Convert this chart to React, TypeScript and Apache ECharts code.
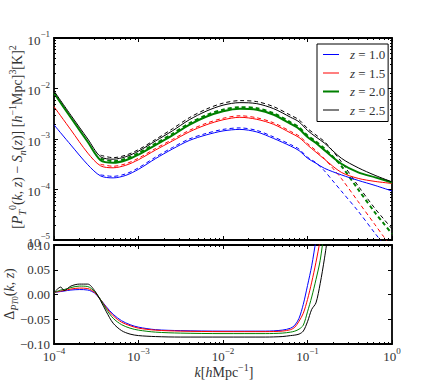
import React, { useEffect, useRef } from "react";
import * as echarts from "echarts";

// ---- data (log10 values) ----
const seriesNames = ["z = 1.0", "z = 1.5", "z = 2.0", "z = 2.5"];
const seriesColors = ["#0000ff", "#ff0000", "#008000", "#000000"];
const seriesWidths = [1, 1, 2, 1];

const logKTop = [-4, -3.8, -3.6, -3.45, -3.3, -3.15, -3.0, -2.8, -2.6, -2.4, -2.2, -2.0, -1.8, -1.6, -1.4, -1.2, -1.1, -1.0, -0.9, -0.8, -0.6, -0.4, -0.2, 0];
const logPBlue = [-2.72, -3.12, -3.51, -3.73, -3.77, -3.72, -3.60, -3.39, -3.20, -3.03, -2.92, -2.84, -2.81, -2.86, -2.99, -3.14, -3.23, -3.38, -3.48, -3.58, -3.71, -3.82, -3.92, -4.03];
const logPRed = [-2.36, -2.82, -3.28, -3.53, -3.57, -3.52, -3.41, -3.22, -3.04, -2.86, -2.72, -2.62, -2.57, -2.61, -2.71, -2.88, -2.97, -3.12, -3.26, -3.40, -3.66, -3.78, -3.84, -3.88];
const logPGreen = [-2.09, -2.58, -3.06, -3.42, -3.47, -3.42, -3.31, -3.12, -2.93, -2.72, -2.56, -2.45, -2.40, -2.42, -2.52, -2.70, -2.80, -2.96, -3.08, -3.22, -3.49, -3.66, -3.76, -3.86];
const logPBlack = [-2.05, -2.53, -3.00, -3.35, -3.40, -3.35, -3.24, -3.04, -2.84, -2.62, -2.45, -2.33, -2.28, -2.30, -2.40, -2.57, -2.66, -2.83, -2.96, -3.08, -3.38, -3.57, -3.72, -3.85];

const logKDashed = [-3.45, -3.3, -3.15, -3.0, -2.8, -2.6, -2.4, -2.2, -2.0, -1.8, -1.6, -1.4, -1.2, -1.1, -1.0, -0.9, -0.8, -0.7, -0.6, -0.4, -0.2, -0.1, 0];
const logPBlueD = [-3.71, -3.74, -3.69, -3.57, -3.36, -3.17, -3.00, -2.89, -2.81, -2.78, -2.83, -2.96, -3.11, -3.20, -3.36, -3.47, -3.63, -3.83, -4.03, -4.43, -4.87, -5.08, -5.30];
const logPRedD = [-3.50, -3.54, -3.49, -3.38, -3.19, -3.01, -2.83, -2.69, -2.59, -2.54, -2.58, -2.68, -2.85, -2.94, -3.09, -3.23, -3.39, -3.58, -3.78, -4.24, -4.70, -4.93, -5.15];
const logPGreenD = [-3.39, -3.44, -3.39, -3.28, -3.09, -2.90, -2.69, -2.53, -2.42, -2.37, -2.39, -2.49, -2.67, -2.77, -2.93, -3.05, -3.19, -3.35, -3.53, -4.00, -4.46, -4.67, -4.88];
const logPBlackD = [-3.32, -3.37, -3.32, -3.21, -3.01, -2.80, -2.58, -2.41, -2.29, -2.24, -2.26, -2.36, -2.53, -2.62, -2.79, -2.92, -3.05, -3.24, -3.45, -3.93, -4.38, -4.58, -4.78];

const logKBottom = [-4, -3.92, -3.88, -3.8, -3.7, -3.6, -3.52, -3.45, -3.38, -3.3, -3.2, -3.1, -3.0, -2.8, -2.5, -2.0, -1.5, -1.3, -1.2, -1.15, -1.1, -1.05, -1.0, -0.95, -0.9, -0.85, -0.8, -0.75];
const deltaBlue = [0.004, 0.006, 0.007, 0.009, 0.010, 0.009, 0.003, -0.010, -0.025, -0.040, -0.053, -0.061, -0.066, -0.071, -0.073, -0.074, -0.074, -0.072, -0.068, -0.062, -0.048, -0.020, 0.018, 0.058, 0.11, 0.16, 0.21, 0.26];
const deltaRed = [0.004, 0.007, 0.008, 0.011, 0.013, 0.012, 0.004, -0.010, -0.027, -0.043, -0.056, -0.063, -0.068, -0.072, -0.074, -0.075, -0.075, -0.074, -0.071, -0.066, -0.054, -0.038, -0.010, 0.025, 0.065, 0.11, 0.16, 0.21];
const deltaGreen = [0.004, 0.009, 0.010, 0.014, 0.017, 0.016, 0.006, -0.010, -0.030, -0.048, -0.061, -0.068, -0.072, -0.076, -0.078, -0.079, -0.079, -0.078, -0.076, -0.074, -0.070, -0.062, -0.035, -0.005, 0.030, 0.069, 0.13, 0.19];
const deltaBlack = [0.004, 0.015, 0.008, 0.017, 0.021, 0.021, 0.008, -0.012, -0.035, -0.058, -0.073, -0.080, -0.083, -0.085, -0.086, -0.086, -0.086, -0.085, -0.083, -0.082, -0.080, -0.074, -0.055, -0.030, -0.017, 0.022, 0.072, 0.13];

const solidTop = [logPBlue, logPRed, logPGreen, logPBlack];
const dashedTop = [logPBlueD, logPRedD, logPGreenD, logPBlackD];
const deltas = [deltaBlue, deltaRed, deltaGreen, deltaBlack];

const kDecades = [-4, -3, -2, -1];
const pDecades = [-5, -4, -3, -2];
const minorMult = [2, 3, 4, 5, 6, 7, 8, 9];

const FONT = "'Liberation Serif', 'DejaVu Serif', serif";
const TXT = "#333";

const supRich = {
  b: { fontFamily: FONT, fontSize: 13, color: TXT, lineHeight: 17, verticalAlign: "bottom" },
  s: { fontFamily: FONT, fontSize: 9, color: TXT, lineHeight: 10, verticalAlign: "top" },
};
const pow10Label = (v: number) => {
  const n = Math.round(Math.log10(v));
  return `{b|10}{s|${n < 0 ? "\u2212" + -n : n}}`;
};

const ICON_THIN = "path://M0,0h0.01v0.01h-0.01zM0,5.5h16v1h-16zM0,11.99h0.01v0.01h-0.01z";
const ICON_THICK = "path://M0,0h0.01v0.01h-0.01zM0,5h16v2h-16zM0,11.99h0.01v0.01h-0.01z";

export default function App() {
  const ref = useRef<HTMLDivElement>(null);
  useEffect(() => {
    const chart = echarts.init(ref.current!, null, { renderer: "svg" });
    const axisLine = { show: true, lineStyle: { color: "#000", width: 1.8 } };
    const tick = { show: true, inside: true, length: 4, lineStyle: { color: "#000", width: 1 } };
    const logX = (grid: number, pos: string, labels: boolean) => ({
      type: "log", logBase: 10, gridIndex: grid, position: pos, min: 1e-4, max: 1,
      axisLine: { ...axisLine, onZero: false }, axisTick: tick, splitLine: { show: false },
      axisLabel: labels
        ? { show: true, margin: 2, formatter: pow10Label, rich: supRich, showMinLabel: true, showMaxLabel: true }
        : { show: false },
    });

    const series: any[] = [];
    for (let i = 0; i < 4; i++) {
      series.push({
        type: "line", name: seriesNames[i], xAxisIndex: 0, yAxisIndex: 0, symbol: "none",
        smooth: 0.3, color: seriesColors[i],
        lineStyle: { color: seriesColors[i], width: seriesWidths[i] },
        data: logKTop.map((x, j) => [Math.pow(10, x), Math.pow(10, solidTop[i][j])]),
        z: 3,
      });
    }
    for (let i = 0; i < 4; i++) {
      series.push({
        type: "line", name: seriesNames[i] + " linear", xAxisIndex: 0, yAxisIndex: 0, symbol: "none",
        smooth: 0.3, color: seriesColors[i],
        lineStyle: { color: seriesColors[i], width: seriesWidths[i], type: [4, 3] },
        data: logKDashed.map((x, j) => [Math.pow(10, x), Math.pow(10, dashedTop[i][j])]),
        z: 2,
      });
    }
    for (let i = 0; i < 4; i++) {
      series.push({
        type: "line", name: seriesNames[i] + " delta", xAxisIndex: 2, yAxisIndex: 2, symbol: "none",
        smooth: 0.3, color: seriesColors[i],
        lineStyle: { color: seriesColors[i], width: 1 },
        data: logKBottom.map((x, j) => [Math.pow(10, x), deltas[i][j]]),
      });
    }

    const minorK: number[][] = [];
    kDecades.forEach((d) => minorMult.forEach((m) => minorK.push([m * Math.pow(10, d)])));
    const minorP: number[][] = [];
    pDecades.forEach((d) => minorMult.forEach((m) => minorP.push([m * Math.pow(10, d)])));

    const tickStyle = { stroke: "#000", lineWidth: 1 };
    const xMinor = (xi: number, yi: number, yv: number) => ({
      type: "custom", xAxisIndex: xi, yAxisIndex: yi, silent: true, z: 5,
      data: minorK.map((d) => [d[0], yv]),
      renderItem: (params: any, api: any) => {
        const cs = params.coordSys;
        const x = Math.round(api.coord([api.value(0), api.value(1)])[0]) + 0.5;
        const b = cs.y + cs.height;
        return {
          type: "group",
          children: [
            { type: "line", shape: { x1: x, y1: b, x2: x, y2: b - 2 }, style: tickStyle },
            { type: "line", shape: { x1: x, y1: cs.y, x2: x, y2: cs.y + 2 }, style: tickStyle },
          ],
        };
      },
    });
    series.push(xMinor(0, 0, 1e-3));
    series.push(xMinor(2, 2, 0));
    series.push({
      type: "custom", xAxisIndex: 0, yAxisIndex: 0, silent: true, z: 5,
      data: minorP.map((d) => [1e-2, d[0]]),
      renderItem: (params: any, api: any) => {
        const cs = params.coordSys;
        const y = Math.round(api.coord([api.value(0), api.value(1)])[1]) + 0.5;
        const r = cs.x + cs.width;
        return {
          type: "group",
          children: [
            { type: "line", shape: { x1: cs.x, y1: y, x2: cs.x + 2, y2: y }, style: tickStyle },
            { type: "line", shape: { x1: r, y1: y, x2: r - 2, y2: y }, style: tickStyle },
          ],
        };
      },
    });

    const ylabelTop =
      "{n|[}{i|P}{sub|T}{sup|0}{n|(}{i|k}{n|, }{i|z}{n|) \u2212 }{i|S}{sub|n}{n|(}{i|z}{n|)] [}{i|h}{sup|\u22121}{n|Mpc]}{sup|3}{n|[K]}{sup|2}";
    const ylabelBot = "{n|\u0394}{sub|P}{ssub|T}{sub2|0}{n|(}{i|k}{n|, }{i|z}{n|)}";
    const xlabel = "{i|k}{n|[}{i|h}{n|Mpc}{sup|\u22121}{n|]}";
    const labRich = {
      n: { fontFamily: FONT, fontSize: 14, color: TXT, lineHeight: 20, verticalAlign: "middle" },
      i: { fontFamily: FONT, fontSize: 14, fontStyle: "italic", color: TXT, lineHeight: 20, verticalAlign: "middle" },
      sub: { fontFamily: FONT, fontSize: 10, fontStyle: "italic", color: TXT, lineHeight: 10, verticalAlign: "bottom" },
      sup: { fontFamily: FONT, fontSize: 10, color: TXT, lineHeight: 10, verticalAlign: "top" },
      ssub: { fontFamily: FONT, fontSize: 8, fontStyle: "italic", color: TXT, lineHeight: 6, verticalAlign: "bottom" },
      sub2: { fontFamily: FONT, fontSize: 8, color: TXT, lineHeight: 16, verticalAlign: "bottom" },
    };
    const textEl = (text: string, x: number, y: number, rot: number) => ({
      type: "text", x, y, rotation: rot, silent: true,
      style: {
        text, rich: labRich, fontFamily: FONT, fontSize: 14, fill: TXT,
        align: "center", verticalAlign: "middle", textAlign: "center", textVerticalAlign: "middle",
      },
    });

    chart.setOption({
      animation: false,
      backgroundColor: "#fff",
      grid: [
        { left: 54, top: 38, width: 338, height: 202 },
        { left: 54, top: 245, width: 338, height: 99 },
      ],
      xAxis: [logX(0, "bottom", false), logX(0, "top", false), logX(1, "bottom", true), logX(1, "top", false)],
      yAxis: [
        {
          type: "log", logBase: 10, gridIndex: 0, position: "left", min: 1e-5, max: 1e-1,
          axisLine, axisTick: tick, splitLine: { show: false },
          axisLabel: { margin: 4, formatter: pow10Label, rich: supRich, showMinLabel: true, showMaxLabel: true },
        },
        {
          type: "log", logBase: 10, gridIndex: 0, position: "right", min: 1e-5, max: 1e-1,
          axisLine, axisTick: tick, splitLine: { show: false }, axisLabel: { show: false },
        },
        {
          type: "value", gridIndex: 1, position: "left", min: -0.1, max: 0.1, interval: 0.05,
          axisLine, axisTick: tick, splitLine: { show: false },
          axisLabel: {
            margin: 4, fontFamily: FONT, fontSize: 13, color: TXT,
            formatter: (v: number) => (Math.abs(v) < 1e-9 ? "0.00" : v.toFixed(2).replace("-", "\u2212")),
          },
        },
        {
          type: "value", gridIndex: 1, position: "right", min: -0.1, max: 0.1, interval: 0.05,
          axisLine, axisTick: tick, splitLine: { show: false }, axisLabel: { show: false },
        },
      ],
      legend: {
        data: seriesNames.map((n, i) => ({ name: n, icon: seriesWidths[i] > 1 ? ICON_THICK : ICON_THIN })),
        orient: "vertical",
        left: 317,
        top: 44,
        padding: [4, 3, 5, 6],
        itemGap: 5.5,
        itemWidth: 16,
        itemHeight: 12,
        borderColor: "#000",
        borderWidth: 1,
        backgroundColor: "#fff",
        selectedMode: false,
        itemStyle: { borderWidth: 0 },
        formatter: (name: string) => `{i|z}{t| = ${name.split("= ")[1]}}`,
        textStyle: {
          color: TXT, fontFamily: FONT, fontSize: 13, lineHeight: 12,
          rich: {
            i: { fontFamily: FONT, fontSize: 13, fontStyle: "italic", color: TXT, padding: [0, 0, 0, 6], lineHeight: 12 },
            t: { fontFamily: FONT, fontSize: 13, color: TXT, lineHeight: 12 },
          },
        },
      },
      graphic: [
        textEl(ylabelTop, 17, 137, Math.PI / 2),
        textEl(ylabelBot, 9, 294, Math.PI / 2),
        textEl(xlabel, 224, 372, 0),
      ],
      series,
    });
    return () => chart.dispose();
  }, []);
  return <div ref={ref} style={{ position: "fixed", left: 0, top: 0, width: 436, height: 382 }} />;
}
